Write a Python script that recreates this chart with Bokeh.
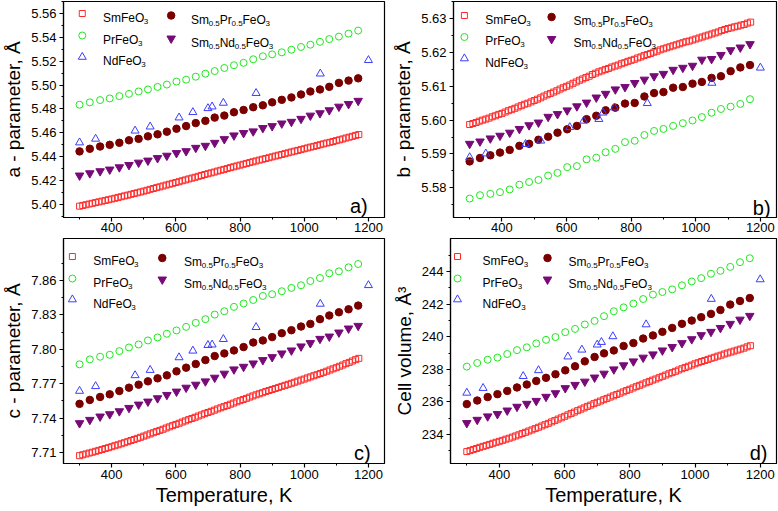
import re
from bokeh.plotting import figure
from bokeh.layouts import column, row
from bokeh.models import FixedTicker, Range1d, PrintfTickFormatter
from bokeh.embed import file_html
from bokeh.resources import INLINE
from bokeh.core.properties import value

# ---------------- data ----------------
T_sm = [300, 310, 320, 330, 340, 350, 360, 370, 380, 390,
        400, 410, 420, 430, 440, 450, 460, 470, 480, 490,
        500, 510, 520, 530, 540, 550, 560, 570, 580, 590,
        600, 610, 620, 630, 640, 650, 660, 670, 680, 690,
        700, 710, 720, 730, 740, 750, 760, 770, 780, 790,
        800, 810, 820, 830, 840, 850, 860, 870, 880, 890,
        900, 910, 920, 930, 940, 950, 960, 970, 980, 990,
        1000, 1010, 1020, 1030, 1040, 1050, 1060, 1070, 1080, 1090,
        1100, 1110, 1120, 1130, 1140, 1150, 1160, 1170]
T_mix = [300, 332, 364, 394, 424, 454, 484, 513, 543, 572, 602, 632, 662, 692, 721,
         751, 781, 811, 841, 871, 900, 930, 960, 990, 1019, 1049, 1078, 1108, 1138, 1168]
T_nd = [300, 350, 473, 520, 610, 653, 700, 713, 748, 850, 1050, 1200]

# a - parameter
a_sm = [5.3985, 5.3991, 5.3997, 5.4003, 5.4009, 5.4015, 5.4021, 5.4027, 5.4033, 5.4039,
        5.4045, 5.4051, 5.4058, 5.4064, 5.4071, 5.4077, 5.4084, 5.4091, 5.4097, 5.4104,
        5.4111, 5.4118, 5.4126, 5.4133, 5.4140, 5.4147, 5.4154, 5.4162, 5.4169, 5.4176,
        5.4183, 5.4190, 5.4198, 5.4205, 5.4213, 5.4220, 5.4227, 5.4235, 5.4242, 5.4250,
        5.4257, 5.4264, 5.4271, 5.4279, 5.4286, 5.4293, 5.4300, 5.4308, 5.4315, 5.4322,
        5.4329, 5.4336, 5.4343, 5.4350, 5.4357, 5.4364, 5.4371, 5.4378, 5.4384, 5.4391,
        5.4398, 5.4405, 5.4412, 5.4418, 5.4425, 5.4432, 5.4439, 5.4446, 5.4452, 5.4459,
        5.4466, 5.4473, 5.4480, 5.4486, 5.4493, 5.4500, 5.4507, 5.4514, 5.4520, 5.4527,
        5.4534, 5.4541, 5.4548, 5.4556, 5.4563, 5.4570, 5.4578, 5.4585]
a_pr = [5.4835, 5.4855, 5.4874, 5.4888, 5.4907, 5.4926, 5.4946, 5.4963, 5.4984, 5.5004,
        5.5029, 5.5045, 5.5070, 5.5095, 5.5117, 5.5143, 5.5166, 5.5186, 5.5216, 5.5241,
        5.5257, 5.5274, 5.5296, 5.5319, 5.5338, 5.5362, 5.5385, 5.5406, 5.5431, 5.5456]
a_nd = [5.4518, 5.4549, 5.4617, 5.4651, 5.4727, 5.4772, 5.4805, 5.4819, 5.4850, 5.4932, 5.5095, 5.5208]
a_smpr = [5.4444, 5.4466, 5.4485, 5.4499, 5.4516, 5.4537, 5.4549, 5.4570, 5.4587, 5.4609,
          5.4634, 5.4656, 5.4681, 5.4700, 5.4727, 5.4744, 5.4772, 5.4791, 5.4814, 5.4830,
          5.4855, 5.4876, 5.4896, 5.4921, 5.4946, 5.4963, 5.4985, 5.5018, 5.5037, 5.5056]
a_smnd = [5.4242, 5.4261, 5.4278, 5.4292, 5.4311, 5.4330, 5.4350, 5.4367, 5.4388, 5.4408,
          5.4430, 5.4446, 5.4474, 5.4491, 5.4516, 5.4547, 5.4578, 5.4598, 5.4612, 5.4640,
          5.4656, 5.4678, 5.4692, 5.4717, 5.4744, 5.4764, 5.4789, 5.4819, 5.4841, 5.4868]

# b - parameter
b_sm = [5.5987, 5.5990, 5.5993, 5.5997, 5.6000, 5.6003, 5.6006, 5.6010, 5.6013, 5.6017,
        5.6020, 5.6024, 5.6028, 5.6031, 5.6035, 5.6039, 5.6043, 5.6047, 5.6050, 5.6054,
        5.6058, 5.6062, 5.6066, 5.6071, 5.6075, 5.6079, 5.6083, 5.6087, 5.6092, 5.6096,
        5.6100, 5.6104, 5.6109, 5.6113, 5.6118, 5.6122, 5.6126, 5.6130, 5.6135, 5.6139,
        5.6143, 5.6146, 5.6150, 5.6153, 5.6157, 5.6160, 5.6163, 5.6167, 5.6170, 5.6174,
        5.6177, 5.6180, 5.6184, 5.6187, 5.6191, 5.6194, 5.6197, 5.6201, 5.6204, 5.6208,
        5.6211, 5.6214, 5.6217, 5.6220, 5.6223, 5.6226, 5.6229, 5.6232, 5.6234, 5.6237,
        5.6240, 5.6243, 5.6246, 5.6249, 5.6252, 5.6255, 5.6258, 5.6261, 5.6265, 5.6268,
        5.6271, 5.6273, 5.6276, 5.6278, 5.6281, 5.6283, 5.6287, 5.6290]
b_pr = [5.5768, 5.5778, 5.5782, 5.5787, 5.5795, 5.5809, 5.5817, 5.5823, 5.5836, 5.5844,
        5.5861, 5.5864, 5.5884, 5.5889, 5.5905, 5.5915, 5.5935, 5.5939, 5.5956, 5.5968,
        5.5974, 5.5983, 5.5991, 5.5999, 5.6009, 5.6022, 5.6033, 5.6040, 5.6048, 5.6062]
b_nd = [5.5890, 5.5901, 5.5929, 5.5939, 5.5979, 5.5998, 5.6003, 5.6022, 5.6037, 5.6050, 5.6110, 5.6155]
b_smpr = [5.5878, 5.5888, 5.5896, 5.5904, 5.5912, 5.5924, 5.5930, 5.5942, 5.5951, 5.5963,
          5.5973, 5.5983, 5.6003, 5.6013, 5.6029, 5.6037, 5.6049, 5.6051, 5.6070, 5.6080,
          5.6083, 5.6096, 5.6098, 5.6108, 5.6113, 5.6125, 5.6130, 5.6145, 5.6156, 5.6163]
b_smnd = [5.5930, 5.5937, 5.5946, 5.5954, 5.5963, 5.5974, 5.5985, 5.5993, 5.6010, 5.6018,
          5.6029, 5.6041, 5.6052, 5.6067, 5.6078, 5.6091, 5.6098, 5.6110, 5.6120, 5.6130,
          5.6137, 5.6149, 5.6155, 5.6161, 5.6179, 5.6181, 5.6193, 5.6207, 5.6215, 5.6225]

# c - parameter
c_sm = [7.7074, 7.7082, 7.7089, 7.7097, 7.7104, 7.7112, 7.7120, 7.7128, 7.7136, 7.7144,
        7.7152, 7.7161, 7.7169, 7.7178, 7.7187, 7.7196, 7.7206, 7.7215, 7.7225, 7.7234,
        7.7244, 7.7254, 7.7264, 7.7274, 7.7284, 7.7294, 7.7304, 7.7315, 7.7325, 7.7336,
        7.7346, 7.7356, 7.7367, 7.7377, 7.7388, 7.7398, 7.7408, 7.7419, 7.7429, 7.7440,
        7.7450, 7.7460, 7.7470, 7.7481, 7.7491, 7.7501, 7.7511, 7.7522, 7.7532, 7.7543,
        7.7553, 7.7563, 7.7573, 7.7584, 7.7594, 7.7604, 7.7613, 7.7622, 7.7632, 7.7641,
        7.7650, 7.7659, 7.7668, 7.7677, 7.7686, 7.7695, 7.7704, 7.7713, 7.7723, 7.7732,
        7.7741, 7.7751, 7.7760, 7.7770, 7.7779, 7.7789, 7.7799, 7.7809, 7.7820, 7.7830,
        7.7840, 7.7852, 7.7863, 7.7875, 7.7886, 7.7898, 7.7910, 7.7921]
c_pr = [7.7869, 7.7912, 7.7935, 7.7952, 7.7984, 7.8016, 7.8042, 7.8077, 7.8103, 7.8135,
        7.8164, 7.8195, 7.8230, 7.8262, 7.8302, 7.8331, 7.8369, 7.8398, 7.8429, 7.8464,
        7.8479, 7.8505, 7.8534, 7.8557, 7.8594, 7.8620, 7.8661, 7.8678, 7.8713, 7.8742]
c_nd = [7.7637, 7.7678, 7.7773, 7.7819, 7.7929, 7.7987, 7.8036, 7.8040, 7.8088, 7.8192, 7.8395, 7.8557]
c_smpr = [7.7525, 7.7559, 7.7585, 7.7608, 7.7637, 7.7666, 7.7692, 7.7721, 7.7747, 7.7773,
          7.7808, 7.7840, 7.7872, 7.7906, 7.7941, 7.7964, 7.7990, 7.8019, 7.8059, 7.8077,
          7.8106, 7.8140, 7.8166, 7.8198, 7.8221, 7.8262, 7.8294, 7.8322, 7.8348, 7.8380]
c_smnd = [7.7357, 7.7386, 7.7415, 7.7435, 7.7461, 7.7490, 7.7519, 7.7545, 7.7574, 7.7603,
          7.7632, 7.7666, 7.7692, 7.7721, 7.7753, 7.7788, 7.7825, 7.7848, 7.7877, 7.7906,
          7.7932, 7.7964, 7.7990, 7.8025, 7.8054, 7.8091, 7.8111, 7.8146, 7.8181, 7.8204]

# cell volume
d_sm = [232.96, 233.02, 233.09, 233.15, 233.22, 233.28, 233.34, 233.40, 233.47, 233.53,
        233.59, 233.65, 233.72, 233.78, 233.85, 233.92, 233.99, 234.07, 234.14, 234.22,
        234.29, 234.37, 234.45, 234.53, 234.61, 234.69, 234.78, 234.86, 234.95, 235.03,
        235.12, 235.21, 235.30, 235.38, 235.47, 235.56, 235.64, 235.73, 235.81, 235.90,
        235.98, 236.06, 236.14, 236.22, 236.30, 236.38, 236.46, 236.54, 236.62, 236.70,
        236.78, 236.86, 236.94, 237.02, 237.10, 237.18, 237.26, 237.34, 237.41, 237.49,
        237.57, 237.65, 237.73, 237.80, 237.88, 237.96, 238.04, 238.11, 238.19, 238.26,
        238.34, 238.41, 238.48, 238.54, 238.61, 238.68, 238.74, 238.81, 238.87, 238.94,
        239.00, 239.06, 239.12, 239.18, 239.24, 239.30, 239.38, 239.45]
d_pr = [238.17, 238.39, 238.59, 238.72, 238.94, 239.18, 239.35, 239.59, 239.81, 239.98,
        240.28, 240.48, 240.75, 240.97, 241.26, 241.56, 241.80, 242.03, 242.31, 242.58,
        242.74, 242.90, 243.15, 243.39, 243.59, 243.86, 244.04, 244.28, 244.57, 244.81]
d_nd = [236.56, 236.85, 237.58, 237.94, 238.78, 239.20, 239.51, 239.67, 240.02, 240.75, 242.31, 243.51]
d_smpr = [235.87, 236.09, 236.30, 236.48, 236.68, 236.89, 237.07, 237.29, 237.48, 237.70,
          237.94, 238.19, 238.49, 238.76, 238.98, 239.16, 239.43, 239.61, 239.89, 240.08,
          240.30, 240.54, 240.79, 240.99, 241.20, 241.40, 241.64, 241.97, 242.19, 242.37]
d_smnd = [234.71, 234.91, 235.12, 235.26, 235.48, 235.71, 235.89, 236.07, 236.32, 236.54,
          236.85, 237.05, 237.25, 237.50, 237.74, 238.00, 238.25, 238.49, 238.72, 238.92,
          239.16, 239.37, 239.61, 239.85, 240.10, 240.30, 240.54, 240.79, 241.05, 241.28]

# ticks and labels
x_ticks = [400, 600, 800, 1000, 1200]
x_minor = [300, 500, 700, 900, 1100]
a_ticks = [5.40, 5.42, 5.44, 5.46, 5.48, 5.50, 5.52, 5.54, 5.56]
a_minor = [5.39, 5.41, 5.43, 5.45, 5.47, 5.49, 5.51, 5.53, 5.55, 5.57]
b_ticks = [5.58, 5.59, 5.60, 5.61, 5.62, 5.63]
b_minor = [5.575, 5.585, 5.595, 5.605, 5.615, 5.625, 5.635]
c_ticks = [7.71, 7.74, 7.77, 7.80, 7.83, 7.86]
c_minor = [7.725, 7.755, 7.785, 7.815, 7.845, 7.875]
d_ticks = [234, 236, 238, 240, 242, 244]
d_minor = [233, 235, 237, 239, 241, 243, 245]

series_names = ["SmFeO3", "PrFeO3", "NdFeO3", "Sm0.5Pr0.5FeO3", "Sm0.5Nd0.5FeO3"]
x_title = "Temperature, K"
y_titles = ["a - parameter, Å", "b - parameter, Å", "c - parameter, Å", "Cell volume, Å³"]
panel_letters = ["a)", "b)", "c)", "d)"]

# ---------------- styles ----------------
FONT = "Liberation Sans"
STYLES = [
    dict(marker="square", size=6, line_color="#ff2a2a", fill_alpha=0.0, line_width=1),
    dict(marker="circle", size=7, line_color="#22e622", fill_alpha=0.0, line_width=1),
    dict(marker="triangle", size=8, line_color="#3c3cff", fill_alpha=0.0, line_width=1),
    dict(marker="circle", size=7.5, line_color="#7a0000", fill_color="#7a0000", line_width=1),
    dict(marker="inverted_triangle", size=8.5, line_color="#780a78", fill_color="#780a78", line_width=1),
]
CW = {"S": .667, "m": .833, "F": .611, "e": .556, "O": .778, "P": .667, "r": .333,
      "N": .722, "d": .556, ".": .278}


def tw(s, fs):
    return sum(CW.get(ch, .556) for ch in s) * fs


def panel(yr, yt, ym, fmt, ydata, ytitle, letter, geom, xlabel, leg, let_off):
    W, H, bl, br, bt, bb = geom
    fw, fh = W - bl - br, H - bt - bb
    x0, x1 = 250, 1250
    p = figure(width=W, height=H, x_range=Range1d(x0, x1), y_range=Range1d(*yr),
               output_backend="svg", toolbar_location=None, tools="",
               min_border_left=bl, min_border_right=br, min_border_top=bt, min_border_bottom=bb)
    p.xgrid.visible = False
    p.ygrid.visible = False
    p.outline_line_color = "black"
    p.outline_line_width = 1.2
    p.background_fill_color = "white"
    p.border_fill_color = "white"

    p.xaxis.ticker = FixedTicker(ticks=x_ticks, minor_ticks=x_minor)
    p.yaxis.ticker = FixedTicker(ticks=yt, minor_ticks=ym)
    p.yaxis.formatter = PrintfTickFormatter(format=fmt)
    for ax in (p.xaxis[0], p.yaxis[0]):
        ax.axis_line_width = 1.2
        ax.axis_line_color = "black"
        ax.major_tick_line_color = "black"
        ax.minor_tick_line_color = "black"
        ax.major_tick_line_width = 1.2
        ax.minor_tick_line_width = 1
        ax.major_tick_in = 0
        ax.major_tick_out = 4
        ax.minor_tick_in = 0
        ax.minor_tick_out = 2
        ax.major_label_text_font = FONT
        ax.major_label_text_font_size = "13px"
        ax.major_label_text_color = "black"
        ax.axis_label_text_font = FONT
        ax.axis_label_text_font_style = "normal"
        ax.axis_label_text_color = "black"
    p.yaxis.major_label_standoff = 3
    p.yaxis.axis_label_standoff = 4
    p.yaxis.axis_label = ytitle
    p.yaxis.axis_label_text_font_size = "19px"
    if xlabel:
        p.xaxis.major_label_standoff = 2
        p.xaxis.axis_label = xlabel
        p.xaxis.axis_label_standoff = 2
        p.xaxis.axis_label_text_font_size = "20px"
    else:
        p.xaxis.major_label_standoff = 1

    sx = (x1 - x0) / fw
    sy = (yr[1] - yr[0]) / fh

    def X(px):
        return x0 + px * sx

    def Y(py):
        return yr[1] - py * sy

    xs = [T_sm, T_mix, T_nd, T_mix, T_mix]
    for i in [0, 1, 3, 4, 2]:
        p.scatter(x=xs[i], y=ydata[i], **STYLES[i])

    # legend (two columns, drawn by hand so that subscripts can be shown)
    mx1, tx1, mx2, tx2, rows1, rows2 = leg
    pos = [(mx1, tx1, rows1[0]), (mx1, tx1, rows1[1]), (mx1, tx1, rows1[2]),
           (mx2, tx2, rows2[0]), (mx2, tx2, rows2[1])]
    FS, SS = 12, 8
    for i, name in enumerate(series_names):
        mxp, txp, ry = pos[i]
        p.scatter(x=[X(mxp)], y=[Y(ry)], **STYLES[i])
        parts = re.findall(r"[0-9.]+|[^0-9.]+", name)
        cx = txp
        mt, mxv, myv, sxv, syv, stt = [], [], [], [], [], []
        for part in parts:
            if re.fullmatch(r"[0-9.]+", part):
                stt.append(part); sxv.append(X(cx)); syv.append(Y(ry + 7.5))
                cx += tw(part, SS)
            else:
                mt.append(part); mxv.append(X(cx)); myv.append(Y(ry + 4.2))
                cx += tw(part, FS)
        p.text(x=mxv, y=myv, text=mt, text_font=value(FONT), text_font_size=value(f"{FS}px"),
               text_align="left", text_baseline="alphabetic", text_color="black")
        if stt:
            p.text(x=sxv, y=syv, text=stt, text_font=value(FONT), text_font_size=value(f"{SS}px"),
                   text_align="left", text_baseline="alphabetic", text_color="black")

    rx, by = let_off
    p.text(x=[X(fw - rx)], y=[Y(fh - by)], text=[letter], text_font=value(FONT),
           text_font_size=value("20px"), text_align="right", text_baseline="alphabetic",
           text_color="black")
    return p


pa = panel((5.389, 5.570), a_ticks, a_minor, "%.2f", [a_sm, a_pr, a_nd, a_smpr, a_smnd],
           y_titles[0], panel_letters[0], (390, 237, 59, 6, 1, 20), None,
           (19, 40, 109, 129, (12, 34, 55.5), (14, 37)), (17, 12))
pb = panel((5.5712, 5.6351), b_ticks, b_minor, "%.2f", [b_sm, b_pr, b_nd, b_smpr, b_smnd],
           y_titles[1], panel_letters[1], (388, 237, 60, 2, 1, 20), None,
           (11, 32, 99, 121, (14, 35.5, 57), (15.5, 37.5)), (6, 10))
pc = panel((7.7006, 7.8964), c_ticks, c_minor, "%.2f", [c_sm, c_pr, c_nd, c_smpr, c_smnd],
           y_titles[2], panel_letters[2], (390, 272, 59, 6, 1, 46), x_title,
           (9, 30, 100, 122, (18, 40, 61), (19.5, 41)), (14, 11))
pd_ = panel((232.23, 246.02), d_ticks, d_minor, "%d", [d_sm, d_pr, d_nd, d_smpr, d_smnd],
            y_titles[3], panel_letters[3], (388, 272, 60, 2, 1, 46), x_title,
            (7, 32, 97, 118, (18, 40, 61), (19.5, 41)), (9, 11))

layout = column(row(pa, pb), row(pc, pd_))
open("out.html", "w").write(file_html(layout, INLINE))
